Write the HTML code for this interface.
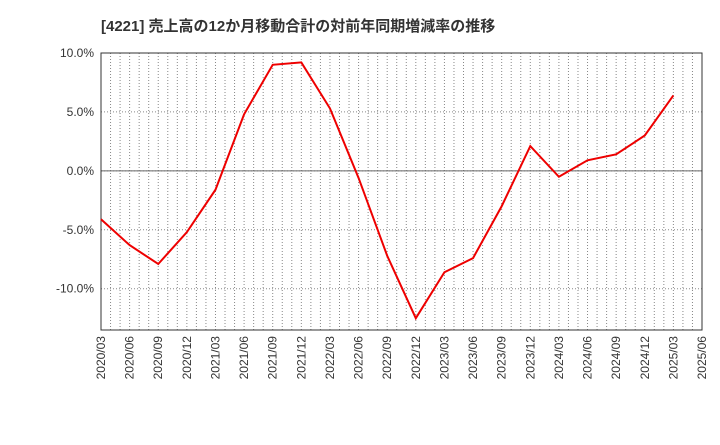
<!DOCTYPE html>
<html><head><meta charset="utf-8">
<style>
body{margin:0;background:#fff;}
svg text{font-family:"Liberation Sans","Noto Sans CJK JP",sans-serif;}
</style></head>
<body>
<svg id="chart" width="720" height="440" xmlns="http://www.w3.org/2000/svg">
<text x="101" y="31" font-size="15" font-weight="bold" fill="#333">[4221]  売上高の12か月移動合計の対前年同期増減率の推移</text>
<g id="grid"></g>
<g id="axes"></g>
<polyline id="line" fill="none" stroke="#ee0000" stroke-width="2"/>
</svg>
<script>
const categories=["2020/03","2020/06","2020/09","2020/12","2021/03","2021/06","2021/09","2021/12","2022/03","2022/06","2022/09","2022/12","2023/03","2023/06","2023/09","2023/12","2024/03","2024/06","2024/09","2024/12","2025/03","2025/06"];
const values=[-4.1,-6.3,-7.9,-5.2,-1.6,4.8,9.0,9.2,5.3,-0.6,-7.2,-12.5,-8.6,-7.4,-3.0,2.1,-0.5,0.9,1.4,3.0,6.4];
const yTicks=[10,5,0,-5,-10];
const yTickLabels=["10.0%","5.0%","0.0%","-5.0%","-10.0%"];
const L=101,R=702,T=53,B=330,yMax=10,yMin=-13.5;
const NS="http://www.w3.org/2000/svg";
const xs=i=>L+(R-L)*i/(categories.length-1);
const ys=v=>T+(yMax-v)/(yMax-yMin)*(B-T);
const grid=document.getElementById('grid'),axes=document.getElementById('axes');
function mk(tag,attrs,parent){const e=document.createElementNS(NS,tag);for(const k in attrs)e.setAttribute(k,attrs[k]);parent.appendChild(e);return e;}
// monthly vertical dotted grid
for(let m=1;m<(categories.length-1)*3;m++){
  const x=L+(R-L)*m/((categories.length-1)*3);
  const g=mk('line',{x1:x,x2:x,y1:T,y2:B,stroke:'#888','stroke-dasharray':'1,2','stroke-width':1},grid);
  
  
}
yTicks.forEach((v,i)=>{
  const y=ys(v);
  const g=mk('line',{x1:L,x2:R,y1:y,y2:y,stroke:'#888','stroke-dasharray':'1,2','stroke-width':1},grid);
  
  
  const t=mk('text',{x:L-7,y:y+4,'text-anchor':'end','font-size':12,fill:'#333'},axes);
  t.textContent=yTickLabels[i];
  
  
});
const zl=mk('line',{x1:L,x2:R,y1:ys(0),y2:ys(0),stroke:'#666','stroke-width':1},grid);


const frame=mk('rect',{x:L,y:T,width:R-L,height:B-T,fill:'none',stroke:'#333','stroke-width':1},axes);


categories.forEach((c,i)=>{
  const x=xs(i);
  const t=mk('text',{x:x+4,y:B+6,'text-anchor':'end','font-size':12,fill:'#333',transform:`rotate(-90 ${x+4} ${B+6})`},axes);
  t.textContent=c;
  
  
});
document.getElementById('line').setAttribute('points',values.map((v,i)=>xs(i)+','+ys(v)).join(' '));
</script>
</body></html>
